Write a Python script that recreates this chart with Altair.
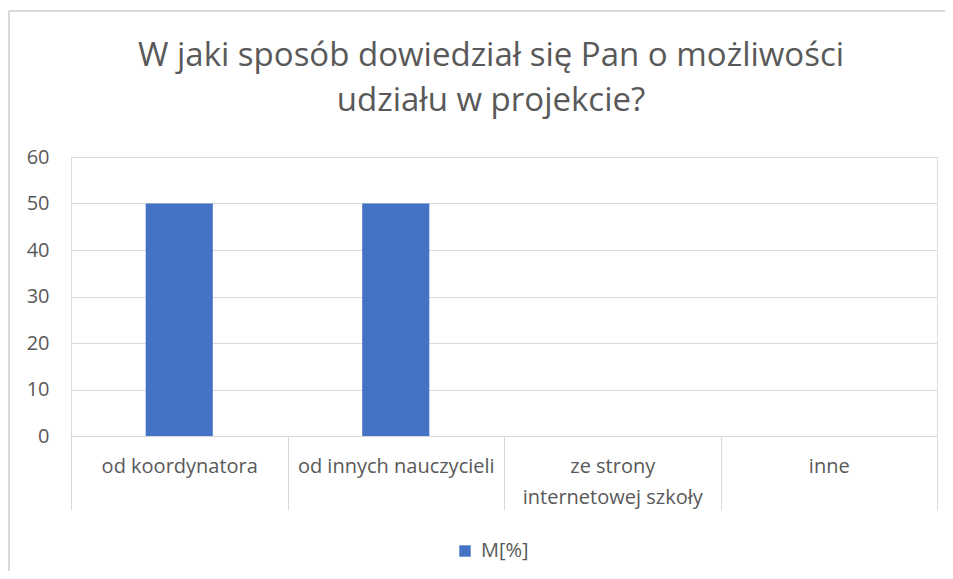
import altair as alt
import pandas as pd

categories = ["od koordynatora", "od innych nauczycieli", "ze strony internetowej szkoły", "inne"]
values = [50, 50, 0, 0]
series_name = "M[%]"
y_ticks = [0, 10, 20, 30, 40, 50, 60]
title_lines = ["W jaki sposób dowiedział się Pan o możliwości", "udziału w projekcie?"]

df = pd.DataFrame({
    "kategoria": categories,
    "wartosc": values,
    "seria": [series_name] * len(categories),
})

TEXT = "#595959"
GRID = "#D9D9D9"
BLUE = "#4472C4"
FONT = "Open Sans"

label_expr = ("datum.label == 'ze strony internetowej szkoły' ? "
              "['ze strony', 'internetowej szkoły'] : datum.label")

bars = alt.Chart(df).mark_bar(width=alt.RelativeBandSize(0.31)).encode(
    x=alt.X(
        "kategoria:N", sort=categories, title=None,
        scale=alt.Scale(paddingInner=0, paddingOuter=0),
        axis=alt.Axis(
            labelAngle=0, tickBand="extent", tickSize=74, tickColor=GRID, tickWidth=1,
            domainColor=GRID, domainWidth=1, labelColor=TEXT, labelFontSize=20,
            labelFont=FONT, labelPadding=-54, labelBaseline="top",
            labelExpr=label_expr, labelLineHeight=31, labelLimit=0, grid=False,
        ),
    ),
    y=alt.Y(
        "wartosc:Q", title=None, scale=alt.Scale(domain=[0, 60], nice=False),
        axis=alt.Axis(
            values=y_ticks, grid=True, gridColor=GRID, gridWidth=1, domain=False,
            ticks=False, labelPadding=22, labelColor=TEXT, labelFontSize=20,
            labelFont=FONT,
        ),
    ),
    color=alt.Color(
        "seria:N", scale=alt.Scale(range=[BLUE]),
        legend=alt.Legend(
            title=None, orient="none", legendX=384, legendY=384, symbolType="square",
            symbolSize=130, symbolStrokeWidth=0, labelColor=TEXT, labelFontSize=20,
            labelFont=FONT, labelOffset=6, padding=0,
        ),
    ),
)

# outer chart-area frame edges (decoration, as in the spreadsheet chart)
frame_src = pd.DataFrame({"f": [0]})
frame_left = alt.Chart(frame_src).mark_rule(color=GRID, strokeWidth=2).encode(
    x=alt.value(-62), y=alt.value(-146), y2=alt.value(500)
)
frame_top = alt.Chart(frame_src).mark_rule(color=GRID, strokeWidth=2).encode(
    x=alt.value(-62), x2=alt.value(1000), y=alt.value(-146)
)

chart = alt.layer(frame_left, frame_top, bars).properties(
    width=866,
    height=279,
    autosize=alt.AutoSizeParams(type="none"),
    padding={"left": 63, "top": 149, "right": 8, "bottom": 135},
    title=alt.Title(
        title_lines, anchor="middle", frame="group", dx=-13, offset=-108,
        fontSize=33, font=FONT, fontWeight="normal", color=TEXT, lineHeight=45,
    ),
).configure_view(stroke=None, clip=False).configure(background="white")

chart.save("out.html", embed_options={"renderer": "svg", "actions": False})
